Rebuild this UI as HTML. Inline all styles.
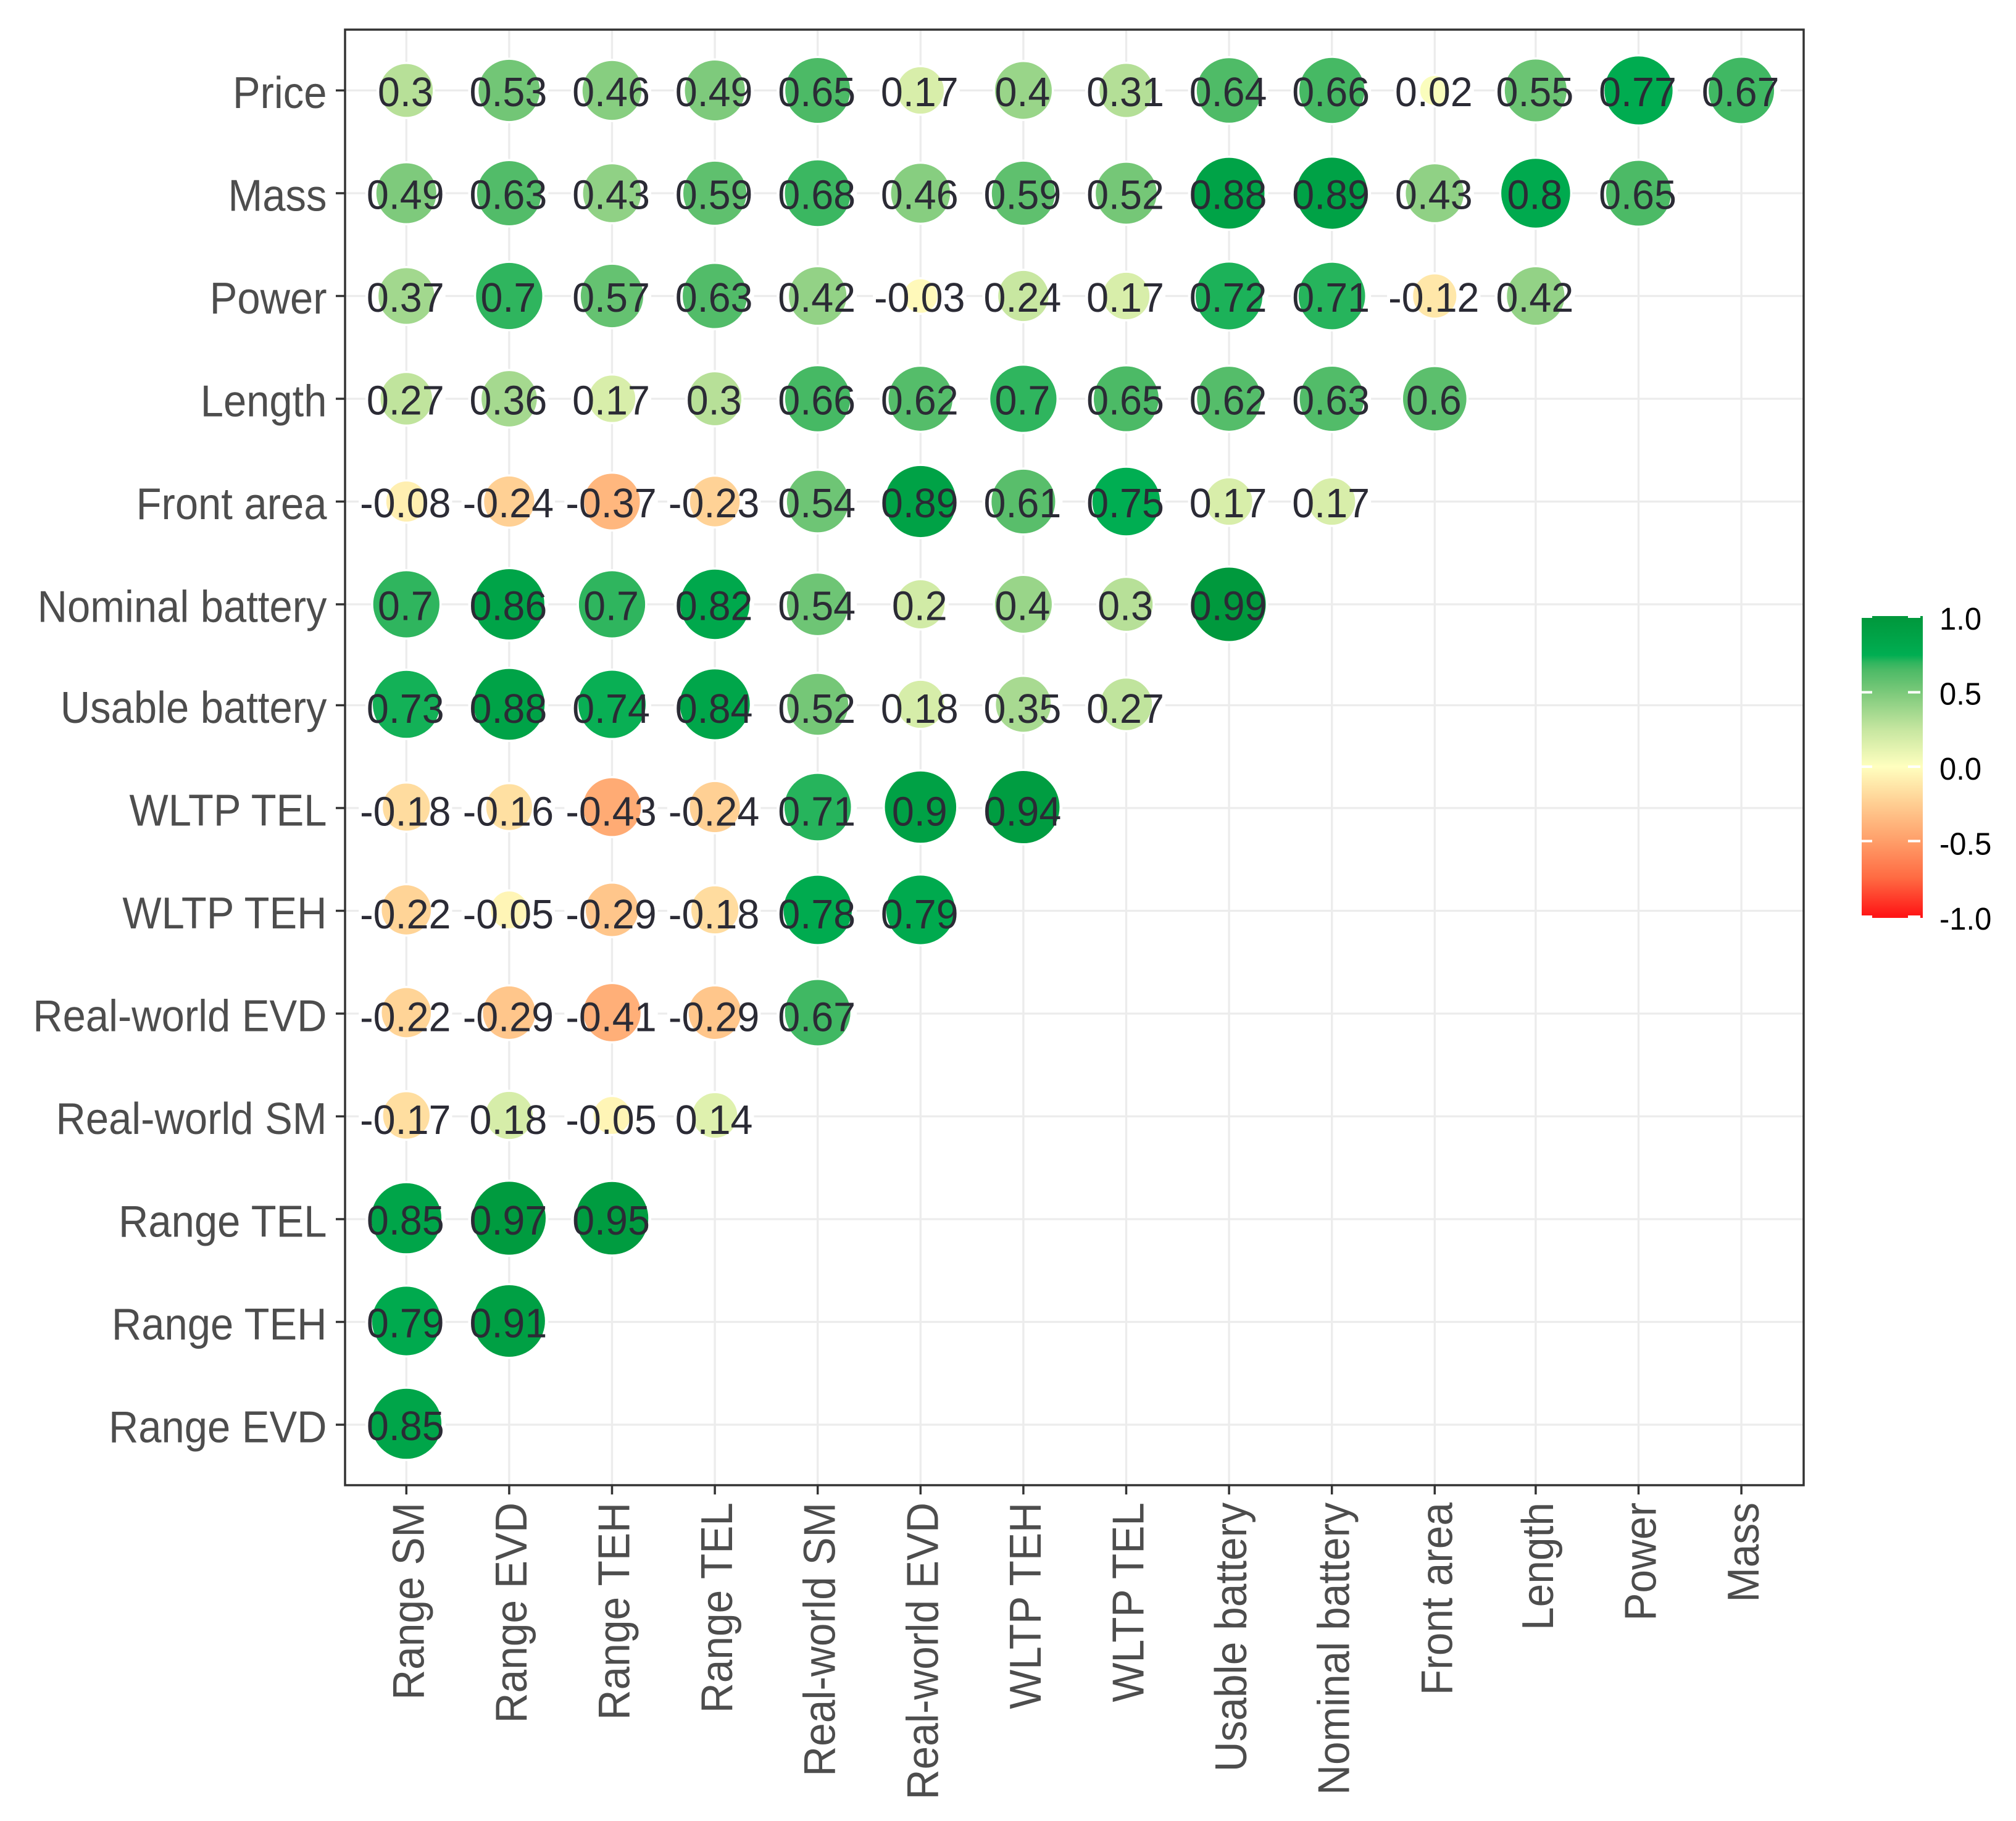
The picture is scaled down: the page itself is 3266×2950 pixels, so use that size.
<!DOCTYPE html>
<html lang="en">
<head>
<meta charset="utf-8">
<title>Correlation matrix</title>
<style>
html,body{margin:0;padding:0;background:#fff;width:3266px;height:2950px;overflow:hidden}
svg{display:block}
text{font-family:"Liberation Sans",Arial,sans-serif}
</style>
</head>
<body>
<svg id="chart" xmlns="http://www.w3.org/2000/svg" width="3266" height="2950" viewBox="0 0 3266 2950">
  <defs>
    <linearGradient id="legend-gradient" gradientUnits="userSpaceOnUse" x1="0" x2="0"></linearGradient>
  </defs>
  <rect x="0" y="0" width="3266" height="2950" fill="#ffffff"></rect>
  <g id="grid"></g>
  <g id="masks"></g>
  <g id="dots"></g>
  <g id="values"></g>
  <g id="frame"></g>
  <g id="yaxis"></g>
  <g id="xaxis"></g>
  <g id="legend"></g>
</svg>
<script>
const rowLabels = ["Price","Mass","Power","Length","Front area","Nominal battery","Usable battery","WLTP TEL","WLTP TEH","Real-world EVD","Real-world SM","Range TEL","Range TEH","Range EVD"];
const colLabels = ["Range SM","Range EVD","Range TEH","Range TEL","Real-world SM","Real-world EVD","WLTP TEH","WLTP TEL","Usable battery","Nominal battery","Front area","Length","Power","Mass"];
const priceRow = [0.3,0.53,0.46,0.49,0.65,0.17,0.4,0.31,0.64,0.66,0.02,0.55,0.77,0.67];
const massRow = [0.49,0.63,0.43,0.59,0.68,0.46,0.59,0.52,0.88,0.89,0.43,0.8,0.65];
const powerRow = [0.37,0.7,0.57,0.63,0.42,-0.03,0.24,0.17,0.72,0.71,-0.12,0.42];
const lengthRow = [0.27,0.36,0.17,0.3,0.66,0.62,0.7,0.65,0.62,0.63,0.6];
const frontAreaRow = [-0.08,-0.24,-0.37,-0.23,0.54,0.89,0.61,0.75,0.17,0.17];
const nominalBatteryRow = [0.7,0.86,0.7,0.82,0.54,0.2,0.4,0.3,0.99];
const usableBatteryRow = [0.73,0.88,0.74,0.84,0.52,0.18,0.35,0.27];
const wltpTelRow = [-0.18,-0.16,-0.43,-0.24,0.71,0.9,0.94];
const wltpTehRow = [-0.22,-0.05,-0.29,-0.18,0.78,0.79];
const realEvdRow = [-0.22,-0.29,-0.41,-0.29,0.67];
const realSmRow = [-0.17,0.18,-0.05,0.14];
const rangeTelRow = [0.85,0.97,0.95];
const rangeTehRow = [0.79,0.91];
const rangeEvdRow = [0.85];
const matrixRows = [priceRow,massRow,powerRow,lengthRow,frontAreaRow,nominalBatteryRow,usableBatteryRow,wltpTelRow,wltpTehRow,realEvdRow,realSmRow,rangeTelRow,rangeTehRow,rangeEvdRow];
const legendBreaks = [1,0.5,0,-0.5,-1];
const colorStopValues = [-1,-0.75,-0.5,-0.25,0,0.25,0.5,0.65,0.7,0.75,1];
const colorStopHexes = ["#FF1616","#FF6A42","#FF9E69","#FFCE92","#FFFFBF","#C6E6A0","#7BC97A","#4CBA66","#2FB55E","#00AE52","#00983C"];

const NS = "http://www.w3.org/2000/svg";
const minAbs = 0.02, maxAbs = 0.99;

function gridX(c){ return 658.3 + 166.6*c - (c >= 11 ? 3 : 0); }
function gridY(r){ return 146.5 + 166.5*r - (r >= 6 ? 3 : 0); }
function dotY(r){ return gridY(r) - (r >= 6 ? 1.5 : 0); }
function valueBaseline(r){ return 172 + 166.5*r - (r >= 11 ? 3.5 : 0); }
function rowLabelBaseline(r){ return 175 + 166.5*r - (r >= 6 ? 3 : 0); }
function dotDiameter(v){ return 47 + 72*Math.sqrt(Math.max(0,(Math.abs(v)-minAbs)/(maxAbs-minAbs))); }
function legendY(v){ return 1242 - 241*v; }
function legendLabelY(v){ return 1263 - 243*v; }
function hexToRgb(h){ return [1,3,5].map(function(i){ return parseInt(h.substr(i,2),16); }); }
function colorFor(v){
  var i = 0;
  while(i < colorStopValues.length-2 && v > colorStopValues[i+1]) i++;
  var t = (v-colorStopValues[i])/(colorStopValues[i+1]-colorStopValues[i]);
  t = Math.max(0,Math.min(1,t));
  var a = hexToRgb(colorStopHexes[i]), b = hexToRgb(colorStopHexes[i+1]);
  return "rgb("+a.map(function(x,k){ return Math.round(x+(b[k]-x)*t); }).join(",")+")";
}
function make(tag, attrs, parent){
  var e = document.createElementNS(NS, tag);
  for(var k in attrs) e.setAttribute(k, attrs[k]);
  parent.appendChild(e);
  return e;
}
function slug(s){ return s.toLowerCase().replace(/[^a-z0-9]+/g,"-"); }

var gridG = document.getElementById("grid"), maskG = document.getElementById("masks"),
    dotG = document.getElementById("dots"), valG = document.getElementById("values"),
    frameG = document.getElementById("frame"), yG = document.getElementById("yaxis"),
    xG = document.getElementById("xaxis"), legG = document.getElementById("legend");

var left = 559, right = 2922, top_ = 48, bottom = 2406;

rowLabels.forEach(function(name, r){
  var y = gridY(r);
  var line = make("line",{x1:left,x2:right,y1:y,y2:y,stroke:"#ECECEC","stroke-width":3.3},gridG);
  
  

  var tick = make("line",{x1:544,x2:left,y1:y,y2:y,stroke:"#333333","stroke-width":3.5},yG);
  
  

  var label = make("text",{transform:"translate(529.5,"+rowLabelBaseline(r)+") scale(0.93,1)","text-anchor":"end","font-size":72,fill:"#4D4D4D"},yG);
  label.textContent = name;
  
  
});

colLabels.forEach(function(name, c){
  var x = gridX(c);
  var line = make("line",{x1:x,x2:x,y1:top_,y2:bottom,stroke:"#ECECEC","stroke-width":3.3},gridG);
  
  

  var tick = make("line",{x1:x,x2:x,y1:bottom,y2:2421,stroke:"#333333","stroke-width":3.5},xG);
  
  

  var label = make("text",{transform:"translate("+(x+28)+",2434) rotate(-90) scale(0.94,1)","text-anchor":"end","font-size":72,fill:"#4D4D4D"},xG);
  label.textContent = name;
  
  
});

matrixRows.forEach(function(row, r){
  row.forEach(function(v, c){
    var cellName = slug(rowLabels[r]) + '-' + slug(colLabels[c]);
    var d = dotDiameter(v);
    var dot = make("circle",{cx:gridX(c),cy:dotY(r),r:d/2+1.75,fill:colorFor(v),stroke:"#ffffff","stroke-width":3.5},dotG);
    
    

    var tx = gridX(c)-1.5, ty = valueBaseline(r), sx = 0.965;
    var text = make("text",{transform:"translate("+tx+","+ty+") scale("+sx+",1)","text-anchor":"middle","font-size":67,fill:"#2B2B35"},valG);
    text.textContent = String(v);
    
    

    var w = text.getComputedTextLength()*sx;
    var mask = make("rect",{x:tx-w/2-2,y:ty-49,width:w+4,height:51,fill:"#ffffff"},maskG);
    
    
  });
});

var border = make("rect",{x:left,y:top_,width:right-left,height:bottom-top_,fill:"none",stroke:"#333333","stroke-width":3.5},frameG);



var gradient = document.getElementById("legend-gradient");
gradient.setAttribute("y1", legendY(1));
gradient.setAttribute("y2", legendY(-1));
colorStopValues.slice().reverse().forEach(function(v){
  var st = make("stop",{offset:(1-v)/2,"stop-color":colorFor(v)},gradient);
});

var barTop = 998, barBottom = 1487;
var bar = make("rect",{x:3016,y:barTop,width:99,height:barBottom-barTop,fill:"url(#legend-gradient)"},legG);



legendBreaks.forEach(function(v){
  var y = legendY(v);
  var y0 = v === 1 ? barTop : (v === -1 ? y : y-2);
  var y1 = v === 1 ? y : (v === -1 ? barBottom : y+2);
  var tickL = make("rect",{x:3016,y:y0,width:17,height:y1-y0,fill:"#ffffff"},legG);
  
  
  var tickR = make("rect",{x:3091,y:y0,width:20,height:y1-y0,fill:"#ffffff"},legG);
  
  
  var label = make("text",{transform:"translate(3142,"+legendLabelY(v)+") scale(0.96,1)","font-size":51,fill:"#000000"},legG);
  label.textContent = v.toFixed(1);
  
  
});
</script>
</body>
</html>
